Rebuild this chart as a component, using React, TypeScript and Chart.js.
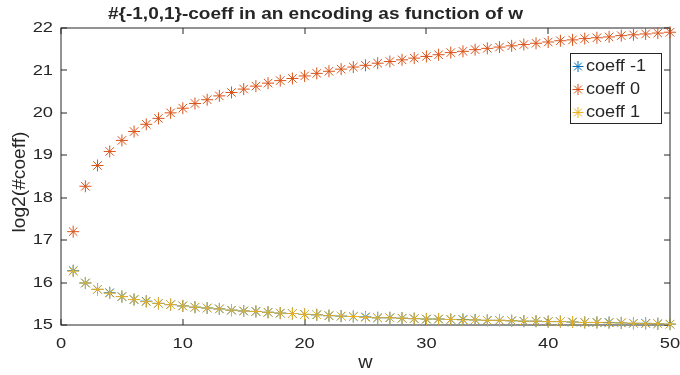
import React, { useEffect, useRef } from 'react';
import { Chart, registerables } from 'chart.js';

Chart.register(...registerables);

const wValues = [
  1, 2, 3, 4, 5, 6, 7, 8, 9, 10, 11, 12, 13, 14, 15, 16, 17, 18, 19, 20, 21, 22, 23, 24, 25,
  26, 27, 28, 29, 30, 31, 32, 33, 34, 35, 36, 37, 38, 39, 40, 41, 42, 43, 44, 45, 46, 47, 48, 49, 50,
];

const coeffNeg1 = [
  16.28, 15.99, 15.84, 15.76, 15.67, 15.6, 15.56, 15.51, 15.48, 15.45, 15.42, 15.4, 15.38, 15.35, 15.33,
  15.32, 15.3, 15.28, 15.27, 15.25, 15.24, 15.22, 15.21, 15.2, 15.19, 15.17, 15.17, 15.16, 15.15, 15.14,
  15.14, 15.13, 15.13, 15.12, 15.11, 15.11, 15.1, 15.09, 15.09, 15.08, 15.08, 15.07, 15.06, 15.06, 15.06,
  15.05, 15.04, 15.04, 15.03, 15.02,
];

const coeff0 = [
  17.2, 18.27, 18.76, 19.09, 19.35, 19.56, 19.73, 19.87, 20.0, 20.11, 20.22, 20.31, 20.4, 20.48, 20.56,
  20.63, 20.7, 20.76, 20.81, 20.87, 20.93, 20.98, 21.03, 21.08, 21.12, 21.17, 21.21, 21.25, 21.29, 21.33,
  21.37, 21.42, 21.45, 21.49, 21.52, 21.55, 21.58, 21.61, 21.64, 21.67, 21.7, 21.72, 21.75, 21.77, 21.79,
  21.82, 21.84, 21.86, 21.88, 21.9,
];

const coeffPos1 = [
  16.27, 15.99, 15.84, 15.75, 15.67, 15.6, 15.55, 15.51, 15.48, 15.45, 15.42, 15.4, 15.38, 15.35, 15.33,
  15.32, 15.3, 15.28, 15.27, 15.25, 15.24, 15.22, 15.21, 15.2, 15.18, 15.17, 15.17, 15.16, 15.15, 15.14,
  15.14, 15.13, 15.12, 15.12, 15.11, 15.11, 15.1, 15.09, 15.09, 15.08, 15.08, 15.07, 15.06, 15.06, 15.05,
  15.05, 15.04, 15.03, 15.03, 15.02,
];

const xTicks = [0, 10, 20, 30, 40, 50];
const yTicks = [15, 16, 17, 18, 19, 20, 21, 22];
const seriesLabels = ['coeff -1', 'coeff 0', 'coeff 1'];
const seriesColors = ['#0072BD', '#D95319', '#EDB120'];
const titleText = '#{-1,0,1}-coeff in an encoding as function of w';
const xTitle = 'w';
const yTitle = 'log2(#coeff)';

const AX = '#262626';
const FONT = '"Liberation Sans", Arial, sans-serif';

function drawText(
  ctx: CanvasRenderingContext2D,
  s: string,
  x: number,
  y: number,
  font: string,
  align: CanvasTextAlign,
  sx: number,
  rot = 0,
) {
  ctx.save();
  ctx.font = font;
  ctx.fillStyle = AX;
  ctx.translate(x, y);
  if (rot) ctx.rotate(rot);
  ctx.scale(sx, 1);
  ctx.textAlign = align;
  ctx.textBaseline = 'middle';
  ctx.fillText(s, 0, 0);
  ctx.restore();
}

function fitScale(ctx: CanvasRenderingContext2D, s: string, font: string, target: number) {
  ctx.save();
  ctx.font = font;
  const w = ctx.measureText(s).width;
  ctx.restore();
  return w > 0 ? target / w : 1;
}

function drawStar(ctx: CanvasRenderingContext2D, x: number, y: number, r: number, color: string) {
  ctx.save();
  ctx.strokeStyle = color;
  ctx.lineWidth = 1;
  ctx.beginPath();
  const d = r * Math.SQRT1_2;
  ctx.moveTo(x - r, y);
  ctx.lineTo(x + r, y);
  ctx.moveTo(x, y - r);
  ctx.lineTo(x, y + r);
  ctx.moveTo(x - d, y - d);
  ctx.lineTo(x + d, y + d);
  ctx.moveTo(x - d, y + d);
  ctx.lineTo(x + d, y - d);
  ctx.stroke();
  ctx.restore();
}

const decor = {
  id: 'decor',
  beforeDatasetsDraw(chart: any) {
    const { ctx, chartArea: a, scales } = chart;
    const x = scales.x;
    const y = scales.y;
    const L = Math.round(a.left);
    const R = Math.round(a.right);
    const T = Math.round(a.top);
    const B = Math.round(a.bottom);
    ctx.save();
    ctx.strokeStyle = AX;
    ctx.lineWidth = 1;
    ctx.strokeRect(L, T, R - L, B - T);
    ctx.beginPath();
    const tl = 6;
    xTicks.forEach((v) => {
      const px = Math.round(x.getPixelForValue(v));
      ctx.moveTo(px, B);
      ctx.lineTo(px, B - tl);
      ctx.moveTo(px, T);
      ctx.lineTo(px, T + tl);
    });
    yTicks.forEach((v) => {
      const py = Math.round(y.getPixelForValue(v));
      ctx.moveTo(L, py);
      ctx.lineTo(L + tl, py);
      ctx.moveTo(R, py);
      ctx.lineTo(R - tl, py);
    });
    ctx.stroke();
    ctx.restore();
  },
  afterDraw(chart: any) {
    const { ctx, chartArea: a, scales } = chart;
    const x = scales.x;
    const y = scales.y;
    const tickFont = `15px ${FONT}`;
    const tsx = 1.22;
    yTicks.forEach((v) => {
      drawText(ctx, String(v), a.left - 8, y.getPixelForValue(v), tickFont, 'right', tsx);
    });
    xTicks.forEach((v) => {
      drawText(ctx, String(v), x.getPixelForValue(v), a.bottom + 18.5, tickFont, 'center', tsx);
    });

    const tFont = `bold 16px ${FONT}`;
    drawText(ctx, titleText, 315.5, 14.5, tFont, 'center', fitScale(ctx, titleText, tFont, 415));

    const axFont = `18px ${FONT}`;
    drawText(ctx, xTitle, (a.left + a.right) / 2, 363, axFont, 'center', 1.1);
    drawText(ctx, yTitle, 20, 182, axFont, 'center', fitScale(ctx, yTitle, axFont, 101), -Math.PI / 2);

    // legend
    const lx = 570;
    const ly = 53;
    const lw = 91;
    const lh = 70;
    ctx.save();
    ctx.fillStyle = '#ffffff';
    ctx.fillRect(lx, ly, lw, lh);
    ctx.strokeStyle = AX;
    ctx.lineWidth = 1;
    ctx.strokeRect(lx + 0.5, ly + 0.5, lw, lh);
    ctx.restore();
    const lFont = `16px ${FONT}`;
    const lsx = fitScale(ctx, 'coeff -1', lFont, 60);
    const rows = [66.5, 89.5, 112.5];
    seriesLabels.forEach((s, i) => {
      drawStar(ctx, 578, rows[i], 5.5, seriesColors[i]);
      drawText(ctx, s, 586, rows[i], lFont, 'left', lsx);
    });
  },
};

export default function App() {
  const ref = useRef<HTMLCanvasElement | null>(null);
  useEffect(() => {
    if (!ref.current) return;
    const mk = (vals: number[]) => wValues.map((w, i) => ({ x: w, y: vals[i] }));
    const series = [coeffNeg1, coeff0, coeffPos1];
    const chart = new Chart(ref.current, {
      type: 'scatter',
      data: {
        datasets: series.map((vals, i) => ({
          label: seriesLabels[i],
          data: mk(vals),
          showLine: false,
          pointStyle: 'star',
          pointRadius: 6,
          pointHoverRadius: 6,
          borderWidth: 1,
          borderColor: seriesColors[i],
          backgroundColor: seriesColors[i],
          order: 3 - i,
          clip: false,
        })),
      },
      options: {
        animation: false,
        responsive: false,
        devicePixelRatio: 1,
        events: [],
        layout: { padding: { top: 28, right: 10, left: 0, bottom: 0 } },
        plugins: { legend: { display: false }, title: { display: false }, tooltip: { enabled: false } },
        scales: {
          x: {
            type: 'linear',
            min: 0,
            max: 50,
            ticks: { display: false, stepSize: 10 },
            grid: { display: false, drawTicks: false },
            border: { display: false },
            afterFit: (s: any) => {
              s.height = 50;
            },
          },
          y: {
            type: 'linear',
            min: 15,
            max: 22,
            ticks: { display: false, stepSize: 1 },
            grid: { display: false, drawTicks: false },
            border: { display: false },
            afterFit: (s: any) => {
              s.width = 61;
            },
          },
        },
      },
      plugins: [decor],
    } as any);
    return () => chart.destroy();
  }, []);
  return (
    <div style={{ position: 'fixed', left: 0, top: 0, width: 680, height: 375, background: '#fff' }}>
      <canvas ref={ref} width={680} height={375} style={{ display: 'block' }} />
    </div>
  );
}
